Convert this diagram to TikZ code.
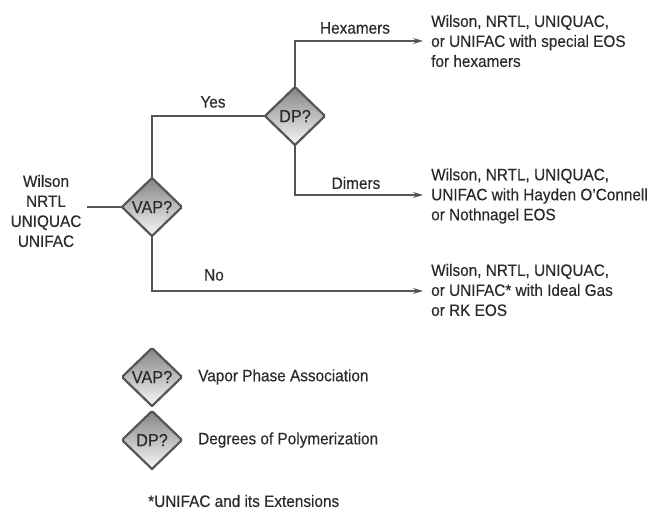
\documentclass[tikz,border=0pt]{standalone}
\usepackage{fontspec}
\setmainfont{Liberation Sans}[FakeStretch=0.93, FakeBold=0.3]
\usetikzlibrary{arrows.meta}
\definecolor{ln}{HTML}{555555}
\definecolor{tx}{HTML}{2a2a2a}
\begin{document}
\begin{tikzpicture}[x=1pt,y=-1pt,
  every node/.style={text=tx, font=\fontsize{16.5}{20}\selectfont},
  conn/.style={draw=ln, line width=1.2pt},
  arr/.style={conn, -{Stealth[length=10pt,width=6pt]}},
  dia/.style={rectangle, minimum width=60pt, minimum height=58pt, inner sep=0pt,
    path picture={
      \shade[top color=black!48, bottom color=black!3]
        (path picture bounding box.north) -- (path picture bounding box.east) --
        (path picture bounding box.south) -- (path picture bounding box.west) -- cycle;
      \draw[ln, line width=2.2pt]
        (path picture bounding box.north) -- (path picture bounding box.east) --
        (path picture bounding box.south) -- (path picture bounding box.west) -- cycle;
    }},
  dtext/.style={font=\fontsize{17.5}{20}\selectfont},
  lbl/.style={inner sep=0pt},
  res/.style={align=left, anchor=west, inner sep=0pt},
]
\useasboundingbox (0,0) rectangle (657,512);

% start block
\node[align=center, inner sep=0pt] (start) at (46,211) {Wilson\\NRTL\\UNIQUAC\\UNIFAC};
\coordinate (startend) at (87,207);

% decision nodes
\node[dia, dtext] (vap) at (152,207) {VAP?};
\node[dia, dtext] (dp) at (295,116) {DP?};

% results
\node[res] (hex) at (431,41) {Wilson, NRTL, UNIQUAC,\\or UNIFAC with special EOS\\for hexamers};
\node[res] (dim) at (431,196) {Wilson, NRTL, UNIQUAC,\\UNIFAC with Hayden O'Connell\\or Nothnagel EOS};
\node[res] (ideal) at (431,290) {Wilson, NRTL, UNIQUAC,\\or UNIFAC* with Ideal Gas\\or RK EOS};

\coordinate (hexend) at (423,41);
\coordinate (dimend) at (423,195);
\coordinate (idealend) at (423,291);

% connectors
\draw[conn] (startend) -- (vap.west);
\draw[conn] (vap.north) |- (dp.west);
\draw[arr] (dp.north) |- (hexend);
\draw[arr] (dp.south) |- (dimend);
\draw[arr] (vap.south) |- (idealend);

% labels
\node[lbl] (yes) at (213,102) {Yes};
\node[lbl] (hexl) at (355,28) {Hexamers};
\node[lbl] (diml) at (356,183) {Dimers};
\node[lbl] (nol) at (214,275) {No};

% legend
\node[dia, dtext] (lvap) at (152,377) {VAP?};
\node[dia, dtext] (ldp) at (152,440) {DP?};
\node[res] (lvapt) at (198,377) {Vapor Phase Association};
\node[res] (ldpt) at (198,440) {Degrees of Polymerization};
\node[res] (note) at (148,501) {*UNIFAC and its Extensions};
\end{tikzpicture}
\end{document}
